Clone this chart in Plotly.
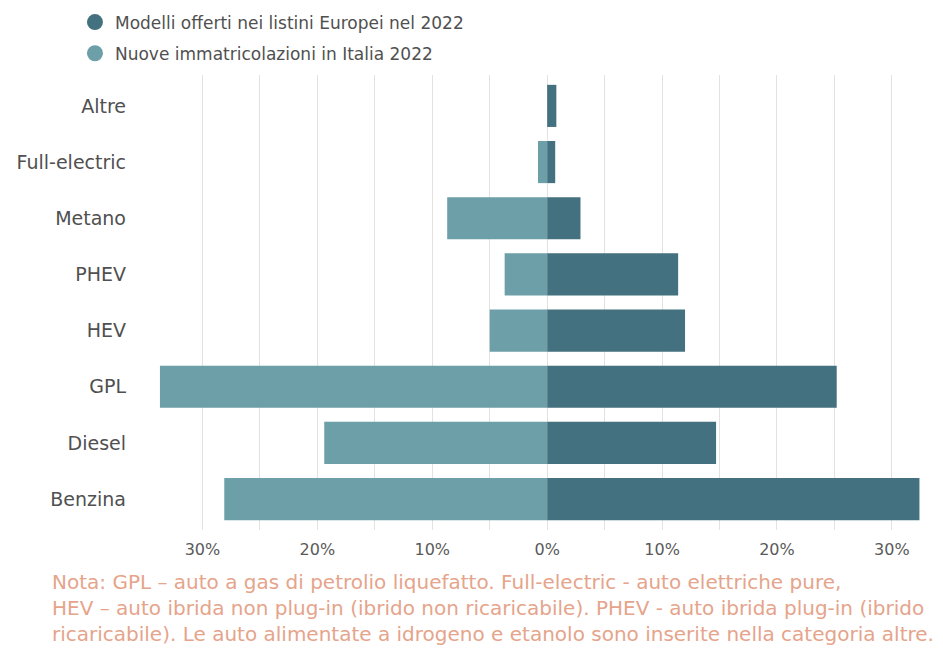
import plotly.graph_objects as go

# Fuel types, bottom to top
categorie = ["Benzina", "Diesel", "GPL", "HEV", "PHEV", "Metano", "Full-electric", "Altre"]

# Share of models offered in European price lists, 2022 (%)
modelli_offerti = [32.4, 14.7, 25.2, 12.0, 11.4, 2.9, 0.7, 0.8]
# Share of new registrations in Italy, 2022 (%)
immatricolazioni = [28.1, 19.4, 33.7, 5.0, 3.7, 8.7, 0.8, 0.0]

serie_modelli = "Modelli offerti nei listini Europei nel 2022"
serie_immatr = "Nuove immatricolazioni in Italia 2022"

tick_valori = [-30, -20, -10, 0, 10, 20, 30]
tick_testi = ["30%", "20%", "10%", "0%", "10%", "20%", "30%"]

nota = ("Nota: GPL – auto a gas di petrolio liquefatto. Full-electric - auto elettriche pure,<br>"
        "HEV – auto ibrida non plug-in (ibrido non ricaricabile). PHEV - auto ibrida plug-in (ibrido<br>"
        "ricaricabile). Le auto alimentate a idrogeno e etanolo sono inserite nella categoria altre.")

COL_SCURO = "#44717f"
COL_CHIARO = "#6d9fa9"
COL_TESTO = "#505050"
FONT = "DejaVu Sans"

fig = go.Figure()

# Right side: models offered
fig.add_trace(go.Bar(
    y=categorie, x=modelli_offerti, orientation="h",
    marker=dict(color=COL_SCURO, line=dict(width=0)),
    showlegend=False, name=serie_modelli,
))
# Left side: registrations, mirrored as negative values
fig.add_trace(go.Bar(
    y=categorie, x=[-v for v in immatricolazioni], orientation="h",
    marker=dict(color=COL_CHIARO, line=dict(width=0)),
    showlegend=False, name=serie_immatr,
))

# Legend entries drawn as round markers
for i, (nome, col) in enumerate([(serie_modelli, COL_SCURO), (serie_immatr, COL_CHIARO)]):
    fig.add_trace(go.Scatter(
        x=[None], y=[None], mode="markers", name=nome, legendgroup=f"g{i}",
        marker=dict(symbol="circle", size=19, color=col),
    ))

fig.update_layout(
    width=943, height=653,
    margin=dict(l=145, r=0, t=75, b=123, autoexpand=False),
    paper_bgcolor="white", plot_bgcolor="white",
    barmode="relative", bargap=0.25,
    font=dict(family=FONT, color=COL_TESTO, size=17),
    legend=dict(
        x=0.0795, y=0.993, xref="container", yref="container",
        xanchor="left", yanchor="top",
        font=dict(size=17, color=COL_TESTO, family=FONT),
        itemwidth=30, traceorder="grouped", tracegroupgap=6,
        bgcolor="rgba(0,0,0,0)",
    ),
    xaxis=dict(
        range=[-35, 34.45],
        tickvals=tick_valori, ticktext=tick_testi,
        showgrid=False, zeroline=False, showline=False,
        tickfont=dict(size=16, color="#5a5a5a"),
        ticks="", ticklabelstandoff=8,
        minor=dict(dtick=5, tick0=0, showgrid=True, gridcolor="#e4e1df", gridwidth=1),
    ),
    yaxis=dict(
        range=[-0.55, 7.55],
        showgrid=False, zeroline=False, showline=False,
        tickfont=dict(size=19, color=COL_TESTO),
        ticks="", ticklabelstandoff=18,
    ),
)

# Footnote below the axis
fig.add_annotation(
    text=nota, xref="paper", yref="paper",
    x=-95 / 798, y=-0.0835, xanchor="left", yanchor="top",
    showarrow=False, align="left",
    font=dict(size=20, color="#e5a48b", family=FONT),
)

fig.write_html("out.html")
